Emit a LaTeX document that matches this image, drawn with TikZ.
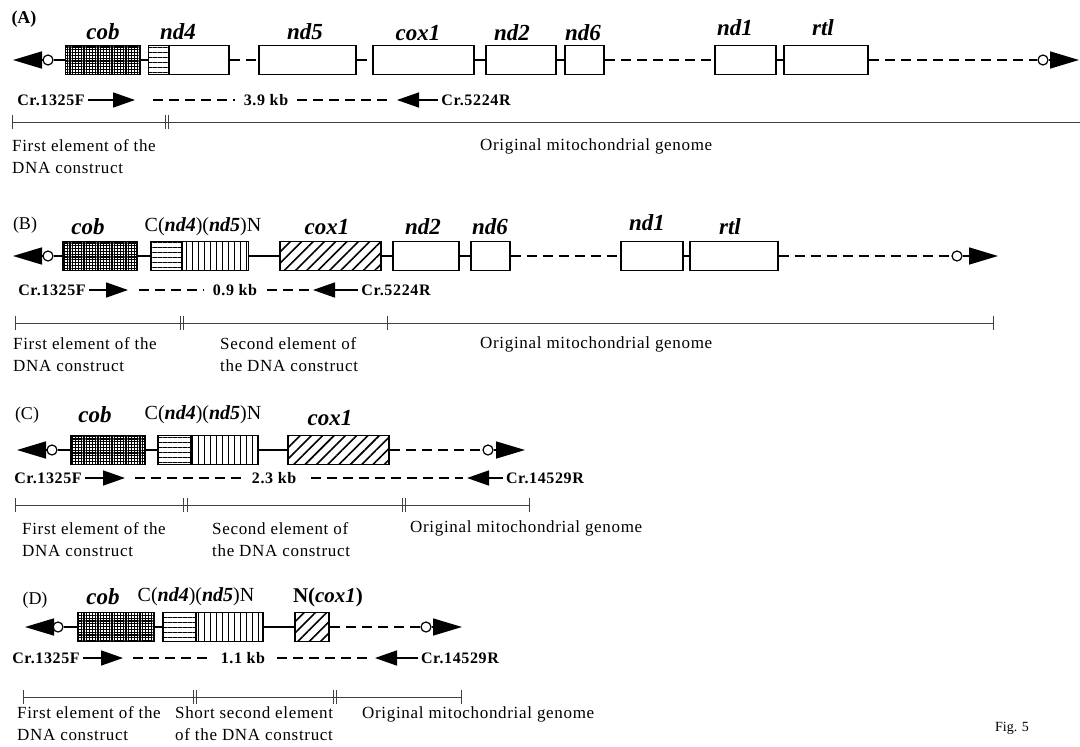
\documentclass[tikz,border=0pt]{standalone}
\usepackage{fontspec}
\setmainfont{Liberation Serif}
\newfontfamily\txtfont[LetterSpace=4]{Liberation Serif}
\newfontfamily\lblfont[LetterSpace=4]{Liberation Serif}
\usetikzlibrary{arrows.meta,patterns.meta}

\tikzset{
  gene/.style={draw, line width=1.6pt, minimum height=29pt, inner sep=0pt, anchor=west},
  cobfill/.style={pattern={Hatch[angle=0,distance=2.8pt,line width=1.3pt]}},
  hfill/.style={pattern={Lines[angle=0,distance=5pt,line width=0.8pt]}},
  vfill/.style={pattern={Lines[angle=90,distance=6pt,line width=0.8pt]}},
  dfill/.style={pattern={Lines[angle=45,distance=8pt,line width=1.6pt]}},
  ori/.style={circle, draw, line width=1.2pt, fill=white, minimum size=10pt, inner sep=0pt},
  link/.style={line width=1.6pt},
  dlink/.style={link, dash pattern=on 10pt off 6pt},
  endarr/.style={line width=1.6pt, -{Triangle[length=29pt,width=17pt]}},
  glab/.style={font=\fontsize{23}{25}\selectfont\bfseries\itshape},
  cnlab/.style={font=\fontsize{20}{22}\selectfont},
  plab/.style={font=\lblfont\fontsize{16}{18}\selectfont\bfseries},
  primer/.style={line width=1.6pt, -{Triangle[length=22pt,width=15pt]}},
  kbline/.style={line width=1.6pt, dash pattern=on 10pt off 6pt},
  kb/.style={plab, fill=white, inner xsep=9pt},
  ruler/.style={line width=0.9pt, black!75},
  elab/.style={font=\txtfont\fontsize{17}{22}\selectfont, align=left, anchor=north west, inner sep=0pt},
  panel/.style={font=\fontsize{18}{20}\selectfont}
}

\begin{document}
\begin{tikzpicture}[x=1pt,y=-1pt]
  \useasboundingbox (0,0) rectangle (1080,747);

  % (A) original genome
  \node[panel,font=\fontsize{18}{20}\selectfont\bfseries] (pA) at (24,19) {(A)};
  \coordinate (Alt) at (13,60);
  \node[ori] (Alo) at (48,60) {};
  \node[gene,cobfill,minimum width=75pt] (Acob) at (65,60) {};
  \node[gene,hfill,minimum width=20pt] (And4s) at (148,60) {};
  \node[gene,minimum width=60pt] (And4) at (168,60) {};
  \node[gene,minimum width=97pt] (And5) at (258,60) {};
  \node[gene,minimum width=101pt] (Acox) at (372,60) {};
  \node[gene,minimum width=70pt] (And2) at (485,60) {};
  \node[gene,minimum width=39pt] (And6) at (564,60) {};
  \node[gene,minimum width=61pt] (And1) at (714,60) {};
  \node[gene,minimum width=84pt] (Artl) at (783,60) {};
  \node[ori] (Aro) at (1043,60) {};
  \coordinate (Art) at (1079,60);
  \draw[endarr] (Alo) -- (Alt);
  \draw[link] (Alo) -- (Acob) (Acob) -- (And4s);
  \draw[dlink] (And4) -- (And5);
  \draw[dlink] (And5) -- (Acox);
  \draw[link] (Acox) -- (And2) (And2) -- (And6) (And1) -- (Artl);
  \draw[dlink] (And6) -- (And1);
  \draw[dlink] (Artl) -- (Aro);
  \draw[endarr] (Aro) -- (Art);
  \node[glab] (Acobl) at (103,32) {cob};
  \node[glab] (And4l) at (178,32) {nd4};
  \node[glab] (And5l) at (305,32) {nd5};
  \node[glab] (Acoxl) at (418,33) {cox1};
  \node[glab] (And2l) at (512,33) {nd2};
  \node[glab] (And6l) at (583,33) {nd6};
  \node[glab] (And1l) at (735,28) {nd1};
  \node[glab] (Artll) at (823,28) {rtl};
  \node[plab] (Af) at (51,100) {Cr.1325F};
  \coordinate (Aft) at (135,100);
  \draw[primer] (Af) -- (Aft);
  \node[plab] (Ar) at (476,100) {Cr.5224R};
  \coordinate (Art2) at (397,100);
  \draw[primer] (Ar) -- (Art2);
  \draw[kbline, shorten <=18pt, shorten >=7pt] (Aft) -- node[kb] (Akb) {3.9 kb} (Art2);
  \draw[ruler] (12,122) -- (1080,122);
  \foreach \x in {12,165,168} \draw[ruler] (\x,115) -- (\x,129);
  \node[elab] (Ae1) at (12,139) {First element of the\\DNA construct};
  \node[elab] (Ae2) at (480,139) {Original mitochondrial genome};

  % (B) construct with cox1
  \node[panel] (pB) at (25,225) {(B)};
  \coordinate (Blt) at (13,256);
  \node[ori] (Blo) at (48,256) {};
  \node[gene,cobfill,minimum width=74pt] (Bcob) at (62,256) {};
  \node[gene,hfill,minimum width=31pt] (Bnd4) at (150,256) {};
  \node[gene,vfill,minimum width=67pt] (Bnd5) at (181,256) {};
  \node[gene,dfill,minimum width=101pt] (Bcox) at (279,256) {};
  \node[gene,minimum width=66pt] (Bnd2) at (392,256) {};
  \node[gene,minimum width=39pt] (Bnd6) at (470,256) {};
  \node[gene,minimum width=62pt] (Bnd1) at (620,256) {};
  \node[gene,minimum width=88pt] (Brtl) at (689,256) {};
  \node[ori] (Bro) at (957,256) {};
  \coordinate (Brt) at (998,256);
  \draw[endarr] (Blo) -- (Blt);
  \draw[link] (Blo) -- (Bcob) (Bcob) -- (Bnd4) (Bnd5) -- (Bcox) (Bcox) -- (Bnd2) (Bnd2) -- (Bnd6) (Bnd1) -- (Brtl);
  \draw[dlink] (Bnd6) -- (Bnd1);
  \draw[dlink] (Brtl) -- (Bro);
  \draw[endarr] (Bro) -- (Brt);
  \node[glab] (Bcobl) at (88,227) {cob};
  \node[cnlab] (Bcnl) at (203,227) {C(\textbf{\textit{nd4}})(\textbf{\textit{nd5}})N};
  \node[glab] (Bcoxl) at (327,227) {cox1};
  \node[glab] (Bnd2l) at (423,227) {nd2};
  \node[glab] (Bnd6l) at (490,227) {nd6};
  \node[glab] (Bnd1l) at (647,223) {nd1};
  \node[glab] (Brtll) at (730,227) {rtl};
  \node[plab] (Bf) at (52,290) {Cr.1325F};
  \coordinate (Bft) at (128,290);
  \draw[primer] (Bf) -- (Bft);
  \node[plab] (Br) at (396,290) {Cr.5224R};
  \coordinate (Brt2) at (313,290);
  \draw[primer] (Br) -- (Brt2);
  \draw[kbline, shorten <=11pt, shorten >=1pt] (Bft) -- node[kb,pos=0.578] (Bkb) {0.9 kb} (Brt2);
  \draw[ruler] (15,323) -- (993,323);
  \foreach \x in {15,180,183,387,993} \draw[ruler] (\x,316) -- (\x,330);
  \node[elab] (Be1) at (13,337) {First element of the\\DNA construct};
  \node[elab] (Be2) at (220,337) {Second element of\\the DNA construct};
  \node[elab] (Be3) at (480,337) {Original mitochondrial genome};

  % (C) shorter amplicon
  \node[panel] (pC) at (27,415) {(C)};
  \coordinate (Clt) at (17,450);
  \node[ori] (Clo) at (52,450) {};
  \node[gene,cobfill,minimum width=74pt] (Ccob) at (70,450) {};
  \node[gene,hfill,minimum width=33pt] (Cnd4) at (157,450) {};
  \node[gene,vfill,minimum width=67pt] (Cnd5) at (190,450) {};
  \node[gene,dfill,minimum width=101pt] (Ccox) at (287,450) {};
  \node[ori] (Cro) at (488,450) {};
  \coordinate (Crt) at (525,450);
  \draw[endarr] (Clo) -- (Clt);
  \draw[link] (Clo) -- (Ccob) (Ccob) -- (Cnd4) (Cnd5) -- (Ccox);
  \draw[dlink] (Ccox) -- (Cro);
  \draw[endarr] (Cro) -- (Crt);
  \node[glab] (Ccobl) at (95,415) {cob};
  \node[cnlab] (Ccnl) at (203,415) {C(\textbf{\textit{nd4}})(\textbf{\textit{nd5}})N};
  \node[glab] (Ccoxl) at (330,418) {cox1};
  \node[plab] (Cf) at (48,478) {Cr.1325F};
  \coordinate (Cft) at (125,478);
  \draw[primer] (Cf) -- (Cft);
  \node[plab] (Cr) at (545,478) {Cr.14529R};
  \coordinate (Crt2) at (467,478);
  \draw[primer] (Cr) -- (Crt2);
  \draw[kbline, shorten <=10pt, shorten >=4pt] (Cft) -- node[kb,pos=0.436] (Ckb) {2.3 kb} (Crt2);
  \draw[ruler] (15,505) -- (529,505);
  \foreach \x in {15,183,187,402,405,529} \draw[ruler] (\x,498) -- (\x,512);
  \node[elab] (Ce1) at (22,522) {First element of the\\DNA construct};
  \node[elab] (Ce2) at (212,522) {Second element of\\the DNA construct};
  \node[elab] (Ce3) at (410,520) {Original mitochondrial genome};

  % (D) short second element
  \node[panel] (pD) at (35,600) {(D)};
  \coordinate (Dlt) at (25,627);
  \node[ori] (Dlo) at (58,627) {};
  \node[gene,cobfill,minimum width=76pt] (Dcob) at (77,627) {};
  \node[gene,hfill,minimum width=33pt] (Dnd4) at (162,627) {};
  \node[gene,vfill,minimum width=67pt] (Dnd5) at (195,627) {};
  \node[gene,dfill,minimum width=34pt] (Dcox) at (294,627) {};
  \node[ori] (Dro) at (426,627) {};
  \coordinate (Drt) at (462,627);
  \draw[endarr] (Dlo) -- (Dlt);
  \draw[link] (Dlo) -- (Dcob) (Dcob) -- (Dnd4) (Dnd5) -- (Dcox);
  \draw[dlink] (Dcox) -- (Dro);
  \draw[endarr] (Dro) -- (Drt);
  \node[glab] (Dcobl) at (103,597) {cob};
  \node[cnlab] (Dcnl) at (196,597) {C(\textbf{\textit{nd4}})(\textbf{\textit{nd5}})N};
  \node[cnlab,font=\fontsize{21}{23}\selectfont\bfseries] (Dcoxl) at (328,597) {N(\textit{cox1})};
  \node[plab] (Df) at (46,658) {Cr.1325F};
  \coordinate (Dft) at (123,658);
  \draw[primer] (Df) -- (Dft);
  \node[plab] (Dr) at (460,658) {Cr.14529R};
  \coordinate (Drt2) at (375,658);
  \draw[primer] (Dr) -- (Drt2);
  \draw[kbline, shorten <=10pt, shorten >=2pt] (Dft) -- node[kb,pos=0.476] (Dkb) {1.1 kb} (Drt2);
  \draw[ruler] (23,697) -- (461,697);
  \foreach \x in {23,193,196,333,336,461} \draw[ruler] (\x,690) -- (\x,704);
  \node[elab] (De1) at (17,706) {First element of the\\DNA construct};
  \node[elab] (De2) at (175,706) {Short second element\\of the DNA construct};
  \node[elab] (De3) at (362,706) {Original mitochondrial genome};

  \node[font=\fontsize{14}{16}\selectfont] (fig) at (1012,728) {Fig. 5};
\end{tikzpicture}
\end{document}
